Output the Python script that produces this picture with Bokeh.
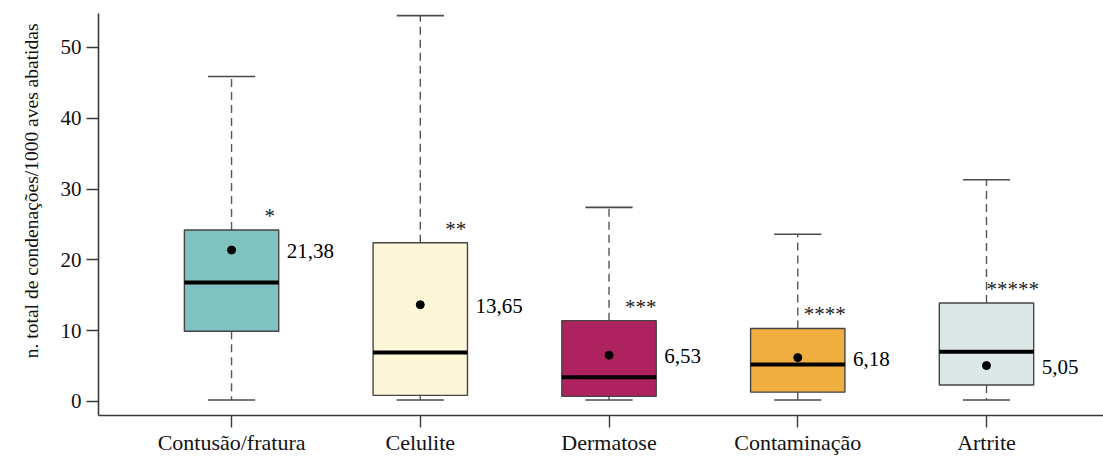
from bokeh.plotting import figure
from bokeh.models import ColumnDataSource, Range1d, FixedTicker, Title
from bokeh.core.properties import value
from bokeh.embed import file_html
from bokeh.resources import INLINE

# Condemnations per 1000 slaughtered birds, by cause
categories = ["Contusão/fratura", "Celulite", "Dermatose", "Contaminação", "Artrite"]
whisker_low = [0.2, 0.2, 0.2, 0.2, 0.2]
q1 = [9.9, 0.85, 0.7, 1.3, 2.3]
median = [16.8, 6.9, 3.4, 5.2, 7.0]
q3 = [24.2, 22.4, 11.4, 10.3, 13.9]
whisker_high = [45.9, 54.5, 27.4, 23.6, 31.3]
means = [21.38, 13.65, 6.53, 6.18, 5.05]
mean_labels = ["21,38", "13,65", "6,53", "6,18", "5,05"]
significance = ["*", "**", "***", "****", "*****"]
y_ticks = [0, 10, 20, 30, 40, 50]
y_title = "n. total de condenações/1000 aves abatidas"

fills = ["#80C2BF", "#FEF6D9", "#AE2260", "#F0AE40", "#DCE8E8"]
star_dx = [33, 25, 16, 6, 0]
FONT_NAME = "Liberation Serif"
FONT = value(FONT_NAME)
AXIS_COLOR = "#3a3a3a"

xs = list(range(1, len(categories) + 1))
box_w = 0.5
cap_w = 0.25

src = ColumnDataSource(dict(
    x=xs,
    cap_l=[x - cap_w / 2 for x in xs],
    cap_r=[x + cap_w / 2 for x in xs],
    box_l=[x - box_w / 2 for x in xs],
    box_r=[x + box_w / 2 for x in xs],
    lo=whisker_low, q1=q1, med=median, q3=q3, hi=whisker_high,
    mean=means, mean_label=mean_labels, sig=significance,
    fill=fills, star_dx=star_dx,
))

p = figure(width=1103, height=457, output_backend="svg", toolbar_location=None,
           x_range=Range1d(0.295, 5.62), y_range=Range1d(-2.0, 54.8),
           min_border_left=98, min_border_right=0, min_border_top=13,
           min_border_bottom=41)
p.outline_line_color = None
p.xgrid.visible = False
p.ygrid.visible = False

# whiskers (dashed) and caps
p.segment(x0="x", y0="q3", x1="x", y1="hi", source=src,
          line_color="#555555", line_width=1.4, line_dash="8 5")
p.segment(x0="x", y0="q1", x1="x", y1="lo", source=src,
          line_color="#555555", line_width=1.4, line_dash="8 5")
p.segment(x0="cap_l", y0="hi", x1="cap_r", y1="hi", source=src,
          line_color="#4a4a4a", line_width=1.6)
p.segment(x0="cap_l", y0="lo", x1="cap_r", y1="lo", source=src,
          line_color="#4a4a4a", line_width=1.6)

# boxes, medians and means
p.quad(left="box_l", right="box_r", bottom="q1", top="q3", source=src,
       fill_color="fill", line_color="#444444", line_width=1.4)
p.segment(x0="box_l", y0="med", x1="box_r", y1="med", source=src,
          line_color="black", line_width=4)
p.scatter(x="x", y="mean", source=src, size=8, color="black")

# mean value labels and significance marks
p.text(x="box_r", y="mean", text="mean_label", source=src, x_offset=8, y_offset=1,
       text_font=FONT, text_font_size="21px", text_align="left",
       text_baseline="middle", text_color="black")
p.text(x="x", y="q3", text="sig", source=src, x_offset="star_dx", y_offset=-14,
       text_font=FONT, text_font_size="21px", text_align="left",
       text_baseline="middle", text_color="#222222")

# axes
p.xaxis.ticker = FixedTicker(ticks=xs)
p.xaxis.major_label_overrides = {x: c for x, c in zip(xs, categories)}
p.yaxis.ticker = FixedTicker(ticks=y_ticks)
for ax in (p.xaxis, p.yaxis):
    ax.axis_line_color = AXIS_COLOR
    ax.axis_line_width = 1.6
    ax.major_tick_line_color = AXIS_COLOR
    ax.major_tick_line_width = 1.4
    ax.major_tick_out = 12
    ax.major_tick_in = 0
    ax.minor_tick_line_color = None
    ax.major_label_text_font = FONT_NAME
    ax.major_label_text_color = "#111111"
p.xaxis.major_label_text_font_size = "22px"
p.yaxis.major_label_text_font_size = "21px"
p.xaxis.major_label_standoff = 2
p.yaxis.major_label_standoff = 5

# vertical title on the left, anchored near the top of the frame
ytitle = Title(text=y_title, align="right", offset=10, standoff=32,
               text_font=FONT_NAME, text_font_size="19.5px",
               text_font_style="normal", text_color="#111111")
p.add_layout(ytitle, "left")

open("out.html", "w").write(file_html(p, INLINE))
